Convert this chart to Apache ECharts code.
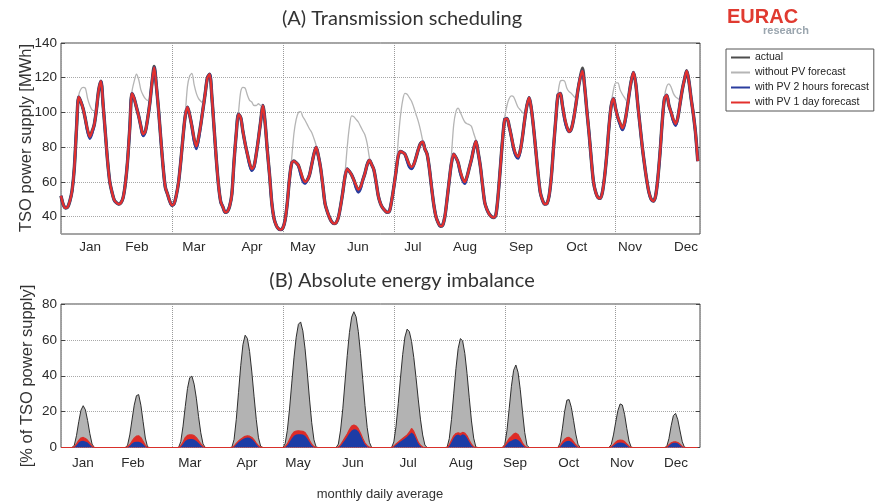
<!DOCTYPE html>
<html><head><meta charset="utf-8">
<script src="https://cdn.jsdelivr.net/npm/echarts@6/dist/echarts.min.js"></script>
<style>html,body{margin:0;padding:0;background:#fff}#c{width:877px;height:504px}</style>
</head><body><div id="c"></div>
<script>
// ---------------- data ----------------
const months = ['Jan','Feb','Mar','Apr','May','Jun','Jul','Aug','Sep','Oct','Nov','Dec'];
const hoursPerDay = 24;
// month label positions (hour index along the 12 x 24 h axis)
const topMonthTicks = [13.1, 34.2, 59.9, 86.1, 109, 133.8, 158.6, 182.1, 207.3, 232.5, 256.4, 281.7];
const bottomMonthTicks = [9.9, 32.4, 58.1, 83.8, 106.8, 131.6, 156.4, 180.3, 204.6, 228.9, 252.8, 277.2];
const yTicksTop = [40, 60, 80, 100, 120, 140];
const yTicksBottom = [0, 20, 40, 60, 80];

// (A) TSO power supply [MWh], monthly average daily profile, hours 0..23
const supplyActual = [
 [52,47,45,45.5,49,55,68,91,109,106,102,96,89.5,86,89,93,102,113,118,104,88,72,60,54],
 [49.5,48,47.2,48,51,59,72,91,111,108,103,98,92,87,89,96,105,117,126.5,115,101,84.5,69,57],
 [53,49,46.5,47.5,52.5,60,72,86,98,103,98.5,92,84.5,80,85.5,93,102,111,120,122,109,91,73,58],
 [48.5,45.5,42.5,43,46,53,72,88,99,97,89,82,76,70.5,67,69,76,85,95,104,94,78,64,48],
 [39,35,33,32.5,33.5,38,48,62,71,72,71,69.5,65.5,61.5,60,61,64,70,76,80,75,68,58,47.5],
 [43,39.5,37,36,36.5,39.5,46,54,63,67.5,66,64,61,57.5,55,57,61,65,70,72.5,70,67,60,52],
 [47.5,45,43.5,42.5,43,49,57,66,75,77.5,77,76,73,69.5,68,70,74,78.5,82,83,79,76,68,57],
 [47,40,36.5,34.5,35,40,50,61,71,76,74,71,65.5,61.5,60,63,68,73,79,83.5,77,69,58,48],
 [44,41.5,40,39.5,41,52,68,84,96,96.5,92,86,79.5,75.5,74.5,78,86,96,104,108.5,102,91,78,65],
 [54,49.5,47.2,47.5,52,63,80,96,110,111,104,96.5,91.5,89,90.5,96,104,113,120,125.5,115,101,88,73],
 [60,54,51,50.5,54,63,76,92,104,108,102,97,93.5,90.5,94,101,110,118,123,117,104,92,80,70],
 [61,54,50,49,52,62,77,95,108,110,104,100,95.5,93,97,105,113,119,124,118,108,99,88,72]
];
const supplyNoPV = [
 [52,47,45,45.5,49,55,68,91,110,113.5,114.5,114,108,104,101.5,101,102,113,118,104,88,72,60,54],
 [49.5,48,47.2,48,51,59,72,91,112,118,122,119,113,110,108,107,107.5,117,126,115,101,84.5,69,57],
 [53,49,46.5,47.5,52.5,60,72,86,99,115,121,122.5,116,111,108,106.5,105.5,111,120,122,109,91,73,58],
 [48.5,45.5,42.5,43,46,53,72,88,100,112,114.5,114,110,107,106,104,104,105,104,104,94,78,64,48],
 [39,35,33,32.5,33.5,38,48,62,74,88,96,100,100.5,97.5,95.5,93,90.5,88.5,85,81,75,68,58,47.5],
 [43,39.5,37,36,36.5,39.5,46,54,65,80,92,98,97.5,96,94.5,92,89.5,87,82,74,70,67,60,52],
 [47.5,45,43.5,42.5,43,49,57,66,84,98,107,111,110.5,108.5,106.5,103,99,95,90,84,79,76,68,57],
 [47,40,36.5,34.5,35,40,50,61,76,93,100.5,102.5,100,97,94.5,93.5,93,92,88,84,77,69,58,48],
 [44,41.5,40,39.5,41,52,68,84,97,104,108,109.5,109,106,103,101.5,100,99,104,108.5,102,91,78,65],
 [54,49.5,47.2,47.5,52,63,80,96,111,118,118.5,118,114,112,111,109.5,108,113,120,124,115,101,88,73],
 [60,54,51,50.5,54,63,76,92,105,113,117,117,113,110.5,108.5,106.5,110,118,123,117,104,92,80,70],
 [61,54,50,49,52,62,77,95,109,115,116.5,114.5,111,109,108,107,113,119,124,118,108,99,88,72]
];
const supplyPV2h = [
 [52,47,45,45.5,49,55,68,91,109,106,102,96,89,85,88,93,102,113,118,104,88,72,60,54],
 [49.5,48,47.2,48,51,59,72,91,111,108,103,98,92,86.5,89,96,105,117,126,115,101,84.5,69,57],
 [53,49,46.5,47.5,52.5,60,72,86,98,103,98.5,92,83.5,79,84.5,93,102,111,120,122,109,91,73,58],
 [48.5,45.5,42.5,43,46,53,72,88,99,97,89,82,76,70,66.5,68.5,76,85,95,104,94,78,64,48],
 [39,35,33,32.5,33.5,38,48,62,71,72,71,69.5,64.5,60.5,59,61,64,70,76,80,75,68,58,47.5],
 [43,39.5,37,36,36.5,39.5,46,54,63,67.5,66,64,61,56.5,54,56,61,65,70,72.5,70,67,60,52],
 [47.5,45,43.5,42.5,43,49,57,66,75,77.5,77,76,72,68.5,67.5,70,74,78.5,82,83,79,76,68,57],
 [47,40,36.5,34.5,35,40,50,61,71,76,74,71,65,61,59,63,68,73,79,83.5,77,69,58,48],
 [44,41.5,40,39.5,41,52,68,84,96,96.5,92,86,79,75,73.5,78,86,96,104,108.5,102,91,78,65],
 [54,49.5,47.2,47.5,52,63,80,96,110,111,104,96,91,89,90.5,96,104,113,120,124,115,101,88,73],
 [60,54,51,50.5,54,63,76,92,104,108,102,97,93,90,93,101,110,118,123,117,104,92,80,70],
 [61,54,50,49,52,62,77,95,108,110,104,100,95,92.5,97,105,113,119,124,118,108,99,88,72]
];
const supplyPV1d = [
 [52,47,45,45.5,49,55,68,91,109,106,102,96,90,86,89,93,102,113,118,104,88,72,60,54],
 [49.5,48,47.2,48,51,59,72,91,111,108,103,98,92,87.5,89,96,105,117,126,115,101,84.5,69,57],
 [53,49,46.5,47.5,52.5,60,72,86,98,103,98.5,92,85,80.5,85.5,93,102,111,120,122,109,91,73,58],
 [48.5,45.5,42.5,43,46,53,72,88,99,97,89,82,76,71,67.5,69,76,85,95,104,94,78,64,48],
 [39,35,33,32.5,33.5,38,48,62,71,72,71,69.5,66,62,60,61,64,70,76,80,75,68,58,47.5],
 [43,39.5,37,36,36.5,39.5,46,54,63,67.5,66,64,61,58,55.5,57,61,65,70,72.5,70,67,60,52],
 [47.5,45,43.5,42.5,43,49,57,66,75,77.5,77,76,73,70,68.5,70,74,78.5,82,83,79,76,68,57],
 [47,40,36.5,34.5,35,40,50,61,71,76,74,71,66,62,60,63,68,73,79,83.5,77,69,58,48],
 [44,41.5,40,39.5,41,52,68,84,96,96.5,92,86,80,76,74.5,78,86,96,104,108.5,102,91,78,65],
 [54,49.5,47.2,47.5,52,63,80,96,110,111,104,97,92,89,90.5,96,104,113,120,124,115,101,88,73],
 [60,54,51,50.5,54,63,76,92,104,108,102,97,94,91,94,101,110,118,123,117,104,92,80,70],
 [61,54,50,49,52,62,77,95,108,110,104,100,96,93.5,97,105,113,119,124,118,108,99,88,72]
];

// (B) absolute energy imbalance [% of TSO power supply], hours 0..23
const imbNoPV = [
 [0,0,0,0,0,0,1.3,6.8,14.4,20.8,23.3,21,15,7.7,1.9,0,0,0,0,0,0,0,0,0],
 [0,0,0,0,0,0,1.3,7,15.4,23.6,28.9,29.5,23.6,14.4,5.3,0.3,0,0,0,0,0,0,0,0],
 [0,0,0,0,0,0,3.4,11.9,22.8,32.9,38.9,39.8,35.3,27.5,17.2,8.2,2,0,0,0,0,0,0,0],
 [0,0,0,0,0,0.1,4.5,15.7,30.6,45.6,57.4,62.6,60.8,53.5,42.1,28.6,15.7,5.4,0.6,0,0,0,0,0],
 [0,0,0,0,0,2.1,9.5,21.5,35.9,50,61.5,68.7,70,65,55,41.6,27,13.8,4.3,0.2,0,0,0,0],
 [0,0,0,0,0,1.9,9.7,21.6,36.5,51.2,64.1,72.7,75.7,72.8,64.6,52.3,37.9,23.4,11.1,2.9,0,0,0,0],
 [0,0,0,0,0,0,3.1,11.8,24.5,38.7,51.9,61.6,66,64.6,59.1,50.2,39,27,15.8,7,1.4,0,0,0],
 [0,0,0,0,0,0,0.1,5,15.7,29.9,44,55.2,60.7,59.5,52.5,41.2,27.7,14.8,5.2,0.2,0,0,0,0],
 [0,0,0,0,0,0,0,0,1.7,9.5,21.7,34.1,43.1,46,41.9,32.2,19.9,8.4,1.3,0,0,0,0,0],
 [0,0,0,0,0,0,0,0,0,2.7,10.8,20.2,26.4,26.7,22.4,15.2,7.5,1.8,0,0,0,0,0,0],
 [0,0,0,0,0,0,0,0,1.7,7,14.1,20.6,24.3,23.7,18.5,10.7,3.6,0.1,0,0,0,0,0,0],
 [0,0,0,0,0,0,0,0,0,0.5,5,12.1,17.8,19,15.5,9.2,3.2,0.1,0,0,0,0,0,0]
];
const imbPV1d = [
 [0,0,0,0,0,0,0.5,2,4,5.3,5.6,5,4,2.5,0.8,0,0,0,0,0,0,0,0,0],
 [0,0,0,0,0,0,0.4,1.5,3.5,5.2,6.3,6.5,5.5,3.5,1.2,0,0,0,0,0,0,0,0,0],
 [0,0,0,0,0,0,1,3,5.5,6.8,7.1,7,6.6,5.5,3.8,2,0.6,0,0,0,0,0,0,0],
 [0,0,0,0,0,0,0.8,2.3,3.6,4.6,5.5,6.2,6.5,6.3,5.6,4.2,2.5,0.9,0.2,0,0,0,0,0],
 [0,0,0,0,0,0.5,2,4.5,7,8.6,9.2,9.3,9.2,9,8.3,6.5,4,1.8,0.5,0,0,0,0,0],
 [0,0,0,0,0,0.3,1.5,3.5,5.5,7.5,10,12,12.5,12,10.5,8,5,2.5,1,0.2,0,0,0,0],
 [0,0,0,0,0,0,0.8,2,3,4,5,6,7,8.5,10.6,9,6,3,1.2,0.3,0,0,0,0],
 [0,0,0,0,0,0,0,1.5,4,6.5,7.8,8.2,7.8,8.4,8,6.5,4,1.8,0.4,0,0,0,0,0],
 [0,0,0,0,0,0,0,0,1,3,5,6.2,7.5,8,7.2,5,2.5,0.8,0,0,0,0,0,0],
 [0,0,0,0,0,0,0,0,0,1,3,4.6,5.5,5.6,4.8,3.2,1.5,0.4,0,0,0,0,0,0],
 [0,0,0,0,0,0,0,0,0.5,1.6,3,3.9,4.1,4,3.3,2,0.7,0,0,0,0,0,0,0],
 [0,0,0,0,0,0,0,0,0,0.3,1.5,2.6,3.1,3.2,2.8,1.8,0.6,0,0,0,0,0,0,0]
];
const imbPV2h = [
 [0,0,0,0,0,0,0.3,1.2,2.8,3.6,3.7,3.4,2.8,1.6,0.5,0,0,0,0,0,0,0,0,0],
 [0,0,0,0,0,0,0.3,1,2.2,3,3.2,3.2,2.8,1.8,0.6,0,0,0,0,0,0,0,0,0],
 [0,0,0,0,0,0,0.6,2,3.6,4.4,4.7,4.7,4.4,3.6,2.5,1.2,0.4,0,0,0,0,0,0,0],
 [0,0,0,0,0,0,0.6,1.8,3,3.9,4.7,5.3,5.6,5.4,4.8,3.6,2,0.7,0.1,0,0,0,0,0],
 [0,0,0,0,0,0.3,1.3,3,5,6.5,7.2,7.4,7.4,7.2,6.5,5,3,1.2,0.3,0,0,0,0,0],
 [0,0,0,0,0,0.2,1,2.5,4.2,6,8,9.5,10.2,10,9,7,4.2,2,0.7,0.1,0,0,0,0],
 [0,0,0,0,0,0,0.6,1.5,2.5,3.3,4.2,5,6,7.2,8.4,7.4,5,2.5,1,0.2,0,0,0,0],
 [0,0,0,0,0,0,0,1,3,5.5,6.8,7.2,6.5,7.4,7,5.5,3.2,1.3,0.3,0,0,0,0,0],
 [0,0,0,0,0,0,0,0,0.6,2,3.2,3.8,4.5,4.7,4.2,3,1.5,0.4,0,0,0,0,0,0],
 [0,0,0,0,0,0,0,0,0,0.6,1.9,3,3.6,3.7,3.2,2.1,0.9,0.2,0,0,0,0,0,0],
 [0,0,0,0,0,0,0,0,0.3,1.1,2,2.6,2.8,2.7,2.2,1.3,0.4,0,0,0,0,0,0,0],
 [0,0,0,0,0,0,0,0,0,0.2,1.1,2.2,2.7,2.8,2.4,1.5,0.5,0,0,0,0,0,0,0]
];

// ---------------- chart ----------------
function toPoints(rows) {
  const out = [];
  rows.forEach((row, m) => row.forEach((v, h) => out.push([m * hoursPerDay + h, v])));
  return out;
}
function monthFor(ticks) {
  return function (v) {
    let best = 0;
    for (let i = 1; i < ticks.length; i++) if (Math.abs(ticks[i] - v) < Math.abs(ticks[best] - v)) best = i;
    return months[best];
  };
}
const SANS = '"Liberation Sans", Arial, sans-serif';
const TITLE = 'Lato, "Open Sans", sans-serif';
const xMax = months.length * hoursPerDay;

function xAxisCfg(gridIndex, ticks, margin) {
  return {
    type: 'value', gridIndex: gridIndex, min: 0, max: xMax, interval: 50,
    axisLine: { show: false }, axisTick: { show: false },
    splitLine: { show: true, lineStyle: { color: '#9a9a9a', type: 'dotted', width: 1 } },
    axisLabel: { customValues: ticks, formatter: monthFor(ticks), margin: margin,
      color: '#2a2a2a', fontSize: 13.5, fontFamily: SANS }
  };
}
function yAxisCfg(gridIndex, min, max, ticks, right) {
  return {
    type: 'value', gridIndex: gridIndex, min: min, max: max, position: right ? 'right' : 'left',
    axisLine: { show: false },
    axisTick: { show: true, inside: true, length: 4, customValues: ticks, lineStyle: { color: '#444' } },
    axisLabel: { show: !right, customValues: ticks, margin: 4, color: '#2a2a2a', fontSize: 13.5, fontFamily: SANS },
    splitLine: { show: !right, lineStyle: { color: '#a8a8a8', type: 'dotted', width: 1 } }
  };
}

const chart = echarts.init(document.getElementById('c'), null, { renderer: 'canvas' });
const lineBase = { type: 'line', xAxisIndex: 0, yAxisIndex: 0, symbol: 'none', showSymbol: false, smooth: 0.3, animation: false };
const areaBase = { type: 'line', xAxisIndex: 1, yAxisIndex: 2, symbol: 'none', showSymbol: false, animation: false };

chart.setOption({
  animation: false,
  backgroundColor: '#ffffff',
  grid: [
    { left: 61, top: 43, width: 639, height: 191, show: true, borderColor: '#4a4a4a', borderWidth: 1, backgroundColor: '#fff' },
    { left: 61, top: 304, width: 639, height: 143.5, show: true, borderColor: '#4a4a4a', borderWidth: 1, backgroundColor: '#fff' }
  ],
  xAxis: [ xAxisCfg(0, topMonthTicks, 6), xAxisCfg(1, bottomMonthTicks, 9) ],
  yAxis: [
    yAxisCfg(0, 30, 140, yTicksTop, false), yAxisCfg(0, 30, 140, yTicksTop, true),
    yAxisCfg(1, 0, 80, yTicksBottom, false), yAxisCfg(1, 0, 80, yTicksBottom, true)
  ],
  legend: {
    data: ['actual', 'without PV forecast', 'with PV 2 hours forecast', 'with PV 1 day forecast'],
    orient: 'vertical', left: 726, top: 49, itemWidth: 19, itemHeight: 13, itemGap: 4,
    padding: [3, 5, 3, 4], borderColor: '#555', borderWidth: 1, backgroundColor: '#fff',
    selectedMode: false,
    itemStyle: { opacity: 0 },
    textStyle: { fontFamily: SANS, fontSize: 10.5, color: '#222' }
  },
  graphic: [
    { type: 'text', x: 402, y: 19, style: { text: '(A) Transmission scheduling', font: '20px ' + TITLE, fill: '#333', textAlign: 'center', textVerticalAlign: 'middle' } },
    { type: 'text', x: 402, y: 281, style: { text: '(B) Absolute energy imbalance', font: '20px ' + TITLE, fill: '#333', textAlign: 'center', textVerticalAlign: 'middle' } },
    { type: 'text', x: 26, y: 138, rotation: Math.PI / 2, style: { text: 'TSO power supply [MWh]', font: '16.5px ' + SANS, fill: '#333', textAlign: 'center', textVerticalAlign: 'middle' } },
    { type: 'text', x: 27, y: 376, rotation: Math.PI / 2, style: { text: '[% of TSO power supply]', font: '16.5px ' + SANS, fill: '#333', textAlign: 'center', textVerticalAlign: 'middle' } },
    { type: 'text', x: 380, y: 494, style: { text: 'monthly daily average', font: '13px ' + SANS, fill: '#333', textAlign: 'center', textVerticalAlign: 'middle' } },
    { type: 'text', x: 727, y: 17, style: { text: 'EURAC', font: 'bold 20px ' + SANS, fill: '#e03a30', textAlign: 'left', textVerticalAlign: 'middle' } },
    { type: 'text', x: 763, y: 31, style: { text: 'research', font: 'bold 11px ' + SANS, fill: '#9aa5ae', textAlign: 'left', textVerticalAlign: 'middle' } }
  ],
  series: [
    Object.assign({}, lineBase, { name: 'actual', data: toPoints(supplyActual), color: '#4d4d4d', lineStyle: { color: '#4d4d4d', width: 3.4 } }),
    Object.assign({}, lineBase, { name: 'without PV forecast', data: toPoints(supplyNoPV), color: '#b5b5b5', lineStyle: { color: '#b5b5b5', width: 1.3 } }),
    Object.assign({}, lineBase, { name: 'with PV 2 hours forecast', data: toPoints(supplyPV2h), color: '#2b3d9e', lineStyle: { color: '#2b3d9e', width: 2.8 } }),
    Object.assign({}, lineBase, { name: 'with PV 1 day forecast', data: toPoints(supplyPV1d), color: '#e3302c', lineStyle: { color: '#e3302c', width: 2.3 } }),
    Object.assign({}, areaBase, { name: 'imb without PV', data: toPoints(imbNoPV), lineStyle: { color: '#2e2e2e', width: 1 }, areaStyle: { color: '#b3b3b3', opacity: 1 } }),
    Object.assign({}, areaBase, { name: 'imb PV 1 day', data: toPoints(imbPV1d), lineStyle: { color: '#d9302a', width: 1.2 }, areaStyle: { color: '#e02a26', opacity: 1 } }),
    Object.assign({}, areaBase, { name: 'imb PV 2 hours', data: toPoints(imbPV2h), lineStyle: { width: 0 }, areaStyle: { color: '#1c3ca6', opacity: 1 } })
  ]
});
</script>
</body></html>
